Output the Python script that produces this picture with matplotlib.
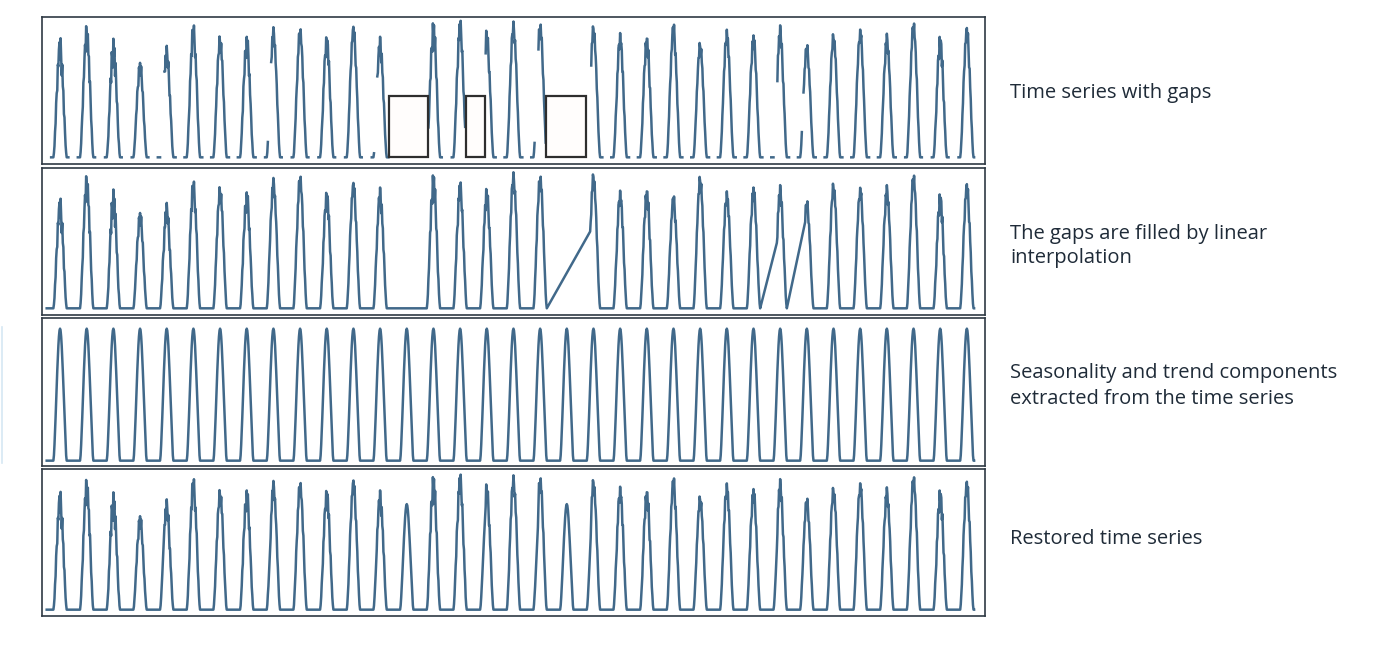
import numpy as np
import pandas as pd
import matplotlib
matplotlib.use("Agg")
import matplotlib.pyplot as plt
from matplotlib.patches import Rectangle
from matplotlib.lines import Line2D

# ---------------- data ----------------
N_DAYS = 35
SAMPLES_PER_DAY = 48          # half-hour samples
END_DAY = 34.79               # series stops in the evening of the last day

# normalised clear-sky daily shape (half-hourly, 00:00 .. 23:30)
DAY_PROFILE = [0, 0, 0, 0, 0, 0, 0, 0, 0, 0, 0, 0,
               0.0, 0.04, 0.12, 0.22, 0.33, 0.45, 0.57, 0.68, 0.78, 0.87, 0.94, 0.985,
               1.0, 0.985, 0.94, 0.87, 0.78, 0.68, 0.57, 0.45, 0.33, 0.22, 0.12, 0.04,
               0.0, 0, 0, 0, 0, 0, 0, 0, 0, 0, 0, 0]

nan = np.nan
# daily peak of the observed series (panels 1 and 4); nan = whole day missing
OBS_PEAK = [0.86, 0.955, 0.855, 0.70, 0.80, 0.98, 0.90, 0.89, 0.95, 0.955,
            0.89, 0.97, 0.87, nan, 0.99, 1.0, 0.93, 1.0, 1.0, nan,
            0.97, 0.91, 0.89, 0.98, 0.85, 0.94, 0.905, 0.955, 0.84, 0.92,
            0.95, 0.90, 1.0, 0.89, 0.96]
# daily peak of the series shown in panel 2
P2_PEAK = [0.79, 0.96, 0.855, 0.705, 0.755, 0.94, 0.90, 0.855, 0.95, 0.98,
           0.855, 0.93, 0.87, 0.0, 0.98, 0.92, 0.875, 1.0, 0.99, 0.0,
           0.99, 0.86, 0.875, 0.825, 0.975, 0.86, 0.895, 0.89, 0.80, 0.93,
           0.895, 0.895, 0.99, 0.84, 0.92]
# cloudiness (relative fluctuation) per day
NOISE_AMP = [0.18, 0.15, 0.20, 0.12, 0.15, 0.12, 0.11, 0.15, 0.09, 0.10,
             0.13, 0.09, 0.13, 0.0, 0.15, 0.13, 0.12, 0.09, 0.10, 0.0,
             0.09, 0.12, 0.13, 0.10, 0.08, 0.09, 0.10, 0.12, 0.08, 0.09,
             0.08, 0.10, 0.09, 0.15, 0.10]
# hand-typed fluctuation pattern
JITTER = [0.1, -0.8, 0.3, -0.3, -1.0, 0.2, -0.5, 0.1, -0.9, 0.3, -0.2, -0.7,
          0.2, -0.4, -1.0, 0.1, -0.6, 0.3, -0.1, -0.8, 0.2, -0.5, 0.0]

SEASONAL_PEAK = 0.99
RESTORE_LEVEL = 0.80

# missing stretches (in days) of the observed series, besides the nights
P1_GAPS = [(4.27, 4.40), (8.30, 8.40), (12.29, 12.39), (12.84, 14.30),
           (15.70, 16.44), (18.30, 18.42), (18.72, 20.40), (27.26, 27.38),
           (28.32, 28.37)]
NIGHT_FROM, NIGHT_TO = 20.0, 4.0        # hours without records in panel 1
# highlighted gaps (start day, end day) and box height
GAP_BOXES = [(12.85, 14.31), (15.72, 16.44), (18.72, 20.21)]
BOX_TOP = 0.46
# gaps filled by linear interpolation in panel 2
P2_GAPS = [(12.77, 14.23), (18.76, 20.37), (26.76, 27.37), (27.76, 28.43)]

LABELS = [["Time series with gaps"],
          ["The gaps are filled by linear", "interpolation"],
          ["Seasonality and trend components", "extracted from the time series"],
          ["Restored time series"]]

# ---------------- build series ----------------
idx = np.arange(N_DAYS * SAMPLES_PER_DAY)
t = idx / SAMPLES_PER_DAY
keep = t <= END_DAY
idx, t = idx[keep], t[keep]
day = np.floor(t).astype(int)
prof = np.array(DAY_PROFILE)[idx % SAMPLES_PER_DAY]
jit = np.array(JITTER)[idx % len(JITTER)]
amp = np.array(NOISE_AMP)[day]


def build(peaks):
    p = np.array(peaks, dtype=float)[day]
    return np.clip(p * prof * (1 + amp * jit), 0, None)


def mask_of(gaps):
    m = np.zeros_like(t, dtype=bool)
    for a, b in gaps:
        m |= (t > a) & (t < b)
    return m


seasonal = SEASONAL_PEAK * prof
obs = build(OBS_PEAK)
hour = (t - day) * 24
gap1 = mask_of(P1_GAPS)

s1 = obs.copy()
s1[(hour >= NIGHT_FROM) | (hour < NIGHT_TO)] = np.nan
s1[gap1] = np.nan

s2 = build(P2_PEAK)
s2[mask_of(P2_GAPS)] = np.nan
s2 = pd.Series(s2, index=t).interpolate(method="index").to_numpy()

s4 = np.where(gap1 | np.isnan(obs), RESTORE_LEVEL * prof, obs)

# ---------------- figure ----------------
W, H = 1400, 652
fig = plt.figure(figsize=(W / 100, H / 100), dpi=100)
fig.patch.set_facecolor("white")

LINE_C = "#41698a"
FRAME_C = "#2f3a44"
TEXT_C = "#1f2b38"

panels = [(17, 164, s1, (-0.05, 1.052)),
          (168, 315, s2, (-0.05, 1.05)),
          (318, 466, seasonal, (-0.04, 1.07)),
          (469, 616, s4, (-0.048, 1.066))]
left_px, right_px = 41.5, 985
axes = []
for top, bot, series, ylim in panels:
    ax = fig.add_axes([left_px / W, (H - bot) / H, (right_px - left_px) / W, (bot - top) / H])
    ax.plot(t, series, color=LINE_C, lw=1.8, solid_joinstyle="round")
    ax.set_xlim(-0.195, 35.18)
    ax.set_ylim(*ylim)
    ax.set_xticks([])
    ax.set_yticks([])
    for sp in ax.spines.values():
        sp.set_color(FRAME_C)
        sp.set_linewidth(1.2)
    axes.append(ax)

for a, b in GAP_BOXES:
    axes[0].add_patch(Rectangle((a, 0), b - a, BOX_TOP, facecolor="#fffdfc",
                                edgecolor="#2e2e2e", lw=1.6, zorder=5))

# faint mark at the left edge
fig.add_artist(Line2D([1.5 / W, 1.5 / W], [(H - 327) / H, (H - 463) / H],
                      color="#d6e8f3", lw=1.2))

baselines = [[98.3], [239, 263.3], [378.3, 404], [544.3]]
for lines, ys in zip(LABELS, baselines):
    for txt, y in zip(lines, ys):
        fig.text(1010 / W, (H - y) / H, txt, ha="left", va="baseline",
                 fontsize=14.5, color=TEXT_C, family=["Open Sans", "DejaVu Sans"])

fig.savefig("out.png", dpi=100, facecolor="white")
